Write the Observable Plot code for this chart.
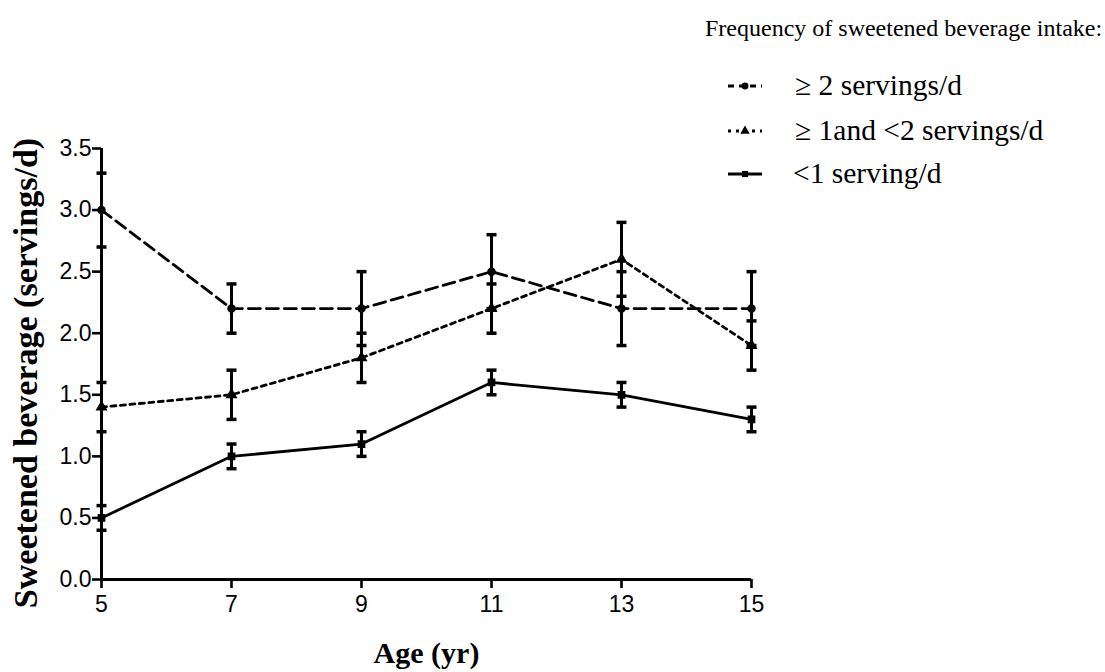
<!DOCTYPE html>
<html>
<head>
<meta charset="utf-8">
<script src="https://cdn.jsdelivr.net/npm/d3@7"></script>
<script src="https://cdn.jsdelivr.net/npm/@observablehq/plot@0.6"></script>
<style>
  html, body { margin: 0; padding: 0; background: #fff; }
  #wrap { position: relative; width: 1105px; height: 672px; }
  #title { position: absolute; left: 705px; top: 15px; font: 24px "Liberation Serif", "Times New Roman", serif; color: #000; white-space: nowrap; }
  #legend { position: absolute; left: 720px; top: 66px; }
  #chart { position: absolute; left: 0; top: 0; }
</style>
</head>
<body>
<div id="wrap">
  <div id="chart"></div>
  <div id="title">Frequency of sweetened beverage intake:</div>
  <div id="legend"></div>
</div>
<script>
const ages = [5, 7, 9, 11, 13, 15];
const seriesNames = ["≥ 2 servings/d", "≥ 1and <2 servings/d", "<1 serving/d"];
const highMean = [3.0, 2.2, 2.2, 2.5, 2.2, 2.2];
const highErr  = [0.3, 0.2, 0.3, 0.3, 0.3, 0.3];
const midMean  = [1.4, 1.5, 1.8, 2.2, 2.6, 1.9];
const midErr   = [0.2, 0.2, 0.2, 0.2, 0.3, 0.2];
const lowMean  = [0.5, 1.0, 1.1, 1.6, 1.5, 1.3];
const lowErr   = [0.1, 0.1, 0.1, 0.1, 0.1, 0.1];
const yTicks = [0, 0.5, 1.0, 1.5, 2.0, 2.5, 3.0, 3.5];
const xTicks = [5, 7, 9, 11, 13, 15];

const styles = [
  {dash: "12,6", symbol: "circle", legendDash: "6,5"},
  {dash: "5,4.5", symbol: "triangle", legendDash: "3,5"},
  {dash: null, symbol: "square", legendDash: null}
];

const means = [highMean, midMean, lowMean];
const errs = [highErr, midErr, lowErr];
const data = [];
seriesNames.forEach((s, i) => {
  ages.forEach((a, j) => {
    data.push({series: s, idx: i, age: a, y: means[i][j], lo: means[i][j] - errs[i][j], hi: means[i][j] + errs[i][j]});
  });
});

const cap = { draw(ctx) { ctx.moveTo(-5, 0); ctx.lineTo(5, 0); } };
const serif = "Liberation Serif, Times New Roman, serif";

const marks = [];
marks.push(Plot.ruleX(data, {x: "age", y1: "lo", y2: "hi", stroke: "black", strokeWidth: 3}));
marks.push(Plot.dot(data, {x: "age", y: "lo", symbol: cap, stroke: "black", strokeWidth: 3.5, fill: "none", r: 3}));
marks.push(Plot.dot(data, {x: "age", y: "hi", symbol: cap, stroke: "black", strokeWidth: 3.5, fill: "none", r: 3}));
seriesNames.forEach((s, i) => {
  const d = data.filter(r => r.idx === i);
  marks.push(Plot.line(d, {x: "age", y: "y", stroke: "black", strokeWidth: 2.8, strokeDasharray: styles[i].dash}));
  marks.push(Plot.dot(d, {x: "age", y: "y", symbol: styles[i].symbol, fill: "black", stroke: "black", r: 3.5}));
});
marks.push(Plot.axisY(yTicks, {tickSize: 9, tickPadding: 1, tickFormat: d3.format(".1f"), fontSize: 23, strokeWidth: 2.6, label: null}));
marks.push(Plot.axisX(xTicks, {tickSize: 9, tickPadding: 7, fontSize: 23, strokeWidth: 2.6, label: null}));
marks.push(Plot.ruleX([5], {stroke: "black", strokeWidth: 3}));
marks.push(Plot.ruleY([0], {stroke: "black", strokeWidth: 3}));
marks.push(Plot.text(["Sweetened beverage (servings/d)"], {frameAnchor: "left", textAnchor: "middle", lineAnchor: "middle", dx: -75, dy: 9, rotate: -90, fontSize: 34, fontWeight: "bold", fontFamily: serif, fill: "black"}));
marks.push(Plot.text(["Age (yr)"], {frameAnchor: "bottom", lineAnchor: "middle", dy: 74, fontSize: 30, fontWeight: "bold", fontFamily: serif, fill: "black"}));

const chart = Plot.plot({
  width: 1105,
  height: 672,
  marginLeft: 101,
  marginRight: 354,
  marginTop: 148,
  marginBottom: 93,
  x: {domain: [5, 15]},
  y: {domain: [0, 3.5]},
  style: {fontFamily: "Liberation Sans, Arial, sans-serif", color: "black", background: "white", overflow: "visible"},
  marks
});
document.getElementById("chart").appendChild(chart);

// legend
const leg = d3.select("#legend");
const rowYs = [20, 65, 108];
const rowX = [75, 75, 73];
const lsvg = leg.append("svg").attr("width", 385).attr("height", 130).style("overflow", "visible");
seriesNames.forEach((s, i) => {
  const g = lsvg.append("g").attr("transform", `translate(0,${rowYs[i]})`);
  g.append("line").attr("x1", 8).attr("x2", 42).attr("y1", 0).attr("y2", 0)
    .attr("stroke", "black").attr("stroke-width", 2.8)
    .attr("stroke-dasharray", styles[i].legendDash);
  g.append("path").attr("transform", "translate(25,0)")
    .attr("d", d3.symbol(i === 0 ? d3.symbolCircle : i === 1 ? d3.symbolTriangle : d3.symbolSquare, 38)())
    .attr("fill", "black");
  g.append("text").attr("x", rowX[i]).attr("y", 9)
    .attr("font-family", serif).attr("font-size", 29.5)
    .text(s);
});
</script>
</body>
</html>
